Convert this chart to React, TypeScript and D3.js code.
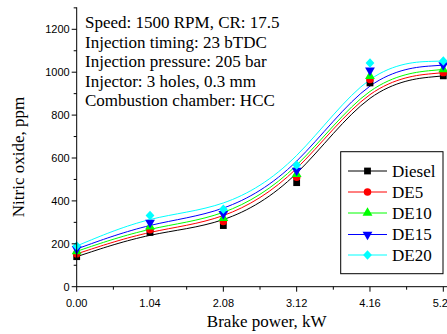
import React from "react";
import * as d3 from "d3";

const W = 447;
const H = 334;

const powers = [0, 1.04, 2.08, 3.12, 4.16, 5.2];
const xTickLabels = ["0.00", "1.04", "2.08", "3.12", "4.16", "5.2"];
const yTicks = [0, 200, 400, 600, 800, 1000, 1200];

const diesel = [140, 253, 285, 485, 950, 983];
const de5 = [153, 265, 304, 510, 966, 998];
const de10 = [165, 280, 319, 525, 981, 1013];
const de15 = [176, 299, 340, 541, 1009, 1033];
const de20 = [190, 332, 361, 567, 1043, 1052];

const seriesNames = ["Diesel", "DE5", "DE10", "DE15", "DE20"];
const seriesValues = [diesel, de5, de10, de15, de20];
const seriesColors = ["#000000", "#ff0000", "#00ff00", "#0000ff", "#00ffff"];
const seriesSymbols = [d3.symbolSquare, d3.symbolCircle, d3.symbolTriangle, d3.symbolTriangle, d3.symbolDiamond];

const infoLines = [
  "Speed: 1500 RPM, CR: 17.5",
  "Injection timing: 23 bTDC",
  "Injection pressure: 205 bar",
  "Injector: 3 holes, 0.3 mm",
  "Combustion chamber: HCC",
];

const serif = "Liberation Serif";
const sans = "Liberation Sans";

function Marker({ i, x, y }: { i: number; x: number; y: number }) {
  const sizes = [46, 44, 42, 42, 26];
  const path = d3.symbol().type(seriesSymbols[i]).size(sizes[i])()!;
  const rot = i === 3 ? 180 : 0;
  return (
    <path
      d={path}
      transform={`translate(${x},${y}) rotate(${rot}) scale(${i === 4 ? 1.6 : 1},1)`}
      fill={seriesColors[i]}
      stroke="none"
    />
  );
}

export default function App() {
  const x = d3.scaleLinear().domain([0, 5.2]).range([76.7, 443.3]);
  const y = d3.scaleLinear().domain([0, 1300]).range([286.7, 7.85]);

  const line = d3
    .line<number>()
    .x((_, j) => x(powers[j]))
    .y((v) => y(v))
    .curve(d3.curveBasis);

  const xMinor = d3.range(0, 11).map((k) => k * 0.52);
  const yMinor = d3.range(0, 14).map((k) => k * 100);

  const legX = 340.7;
  const legY = 151.7;
  const legW = 102.3;
  const legH = 122;
  const legRows = [171, 192, 213, 234.5, 255];

  const serifStyle = { fontFamily: serif };
  const sansStyle = { fontFamily: sans };

  return (
    <svg
      width={W}
      height={H}
      style={{ position: "absolute", left: 0, top: 0, background: "#fff" }}
    >
      <rect x={0} y={0} width={W} height={H} fill="#fff" />
      {seriesValues.map((vals, i) => (
        <path key={"l" + i} d={line(vals)!} fill="none" stroke={seriesColors[i]} strokeWidth={1} />
      ))}
      {seriesValues.map((vals, i) =>
        vals.map((v, j) => <Marker key={`m${i}-${j}`} i={i} x={x(powers[j])} y={y(v)} />)
      )}
      <line x1={x(0)} x2={x(0)} y1={7.3} y2={y(0)} stroke="#000" strokeWidth={1} />
      <line x1={x(0)} x2={W} y1={y(0)} y2={y(0)} stroke="#000" strokeWidth={1} />
      {yMinor.map((v) => (
        <line
          key={"yt" + v}
          x1={x(0)}
          x2={x(0) - (v % 200 === 0 ? 5 : 3)}
          y1={y(v)}
          y2={y(v)}
          stroke="#000"
          strokeWidth={1}
        />
      ))}
      {xMinor.map((v, k) => (
        <line
          key={"xt" + k}
          x1={x(v)}
          x2={x(v)}
          y1={y(0)}
          y2={y(0) + (k % 2 === 0 ? 5 : 3)}
          stroke="#000"
          strokeWidth={1}
        />
      ))}
      {yTicks.map((v) => (
        <text
          key={"yl" + v}
          x={x(0) - 7}
          y={y(v)}
          dy="0.35em"
          textAnchor="end"
          style={sansStyle}
          fontSize={11}
          fill="#000"
        >
          {v}
        </text>
      ))}
      {powers.map((p, j) => (
        <text
          key={"xl" + j}
          x={j === powers.length - 1 ? 432.7 : x(p)}
          y={306.5}
          textAnchor={j === powers.length - 1 ? "start" : "middle"}
          style={sansStyle}
          fontSize={11}
          fill="#000"
        >
          {xTickLabels[j]}
        </text>
      ))}
      <text x={266.7} y={327} textAnchor="middle" style={serifStyle} fontSize={17} fill="#000">
        Brake power, kW
      </text>
      <text
        transform={`translate(24,157) rotate(-90)`}
        textAnchor="middle"
        style={serifStyle}
        fontSize={17}
        fill="#000"
      >
        Nitric oxide, ppm
      </text>
      {infoLines.map((t, k) => (
        <text key={"info" + k} x={85} y={28 + k * 19.5} style={serifStyle} fontSize={17} fill="#000">
          {t}
        </text>
      ))}
      <rect x={legX} y={legY} width={legW} height={legH} fill="#fff" stroke="#000" strokeWidth={1} />
      {seriesNames.map((n, i) => (
        <g key={"lg" + i}>
          <line x1={348} x2={387} y1={legRows[i]} y2={legRows[i]} stroke={seriesColors[i]} strokeWidth={1} />
          <Marker i={i} x={367.5} y={legRows[i]} />
          <text x={392} y={legRows[i]} dy="0.35em" style={serifStyle} fontSize={17} fill="#000">
            {n}
          </text>
        </g>
      ))}
    </svg>
  );
}
